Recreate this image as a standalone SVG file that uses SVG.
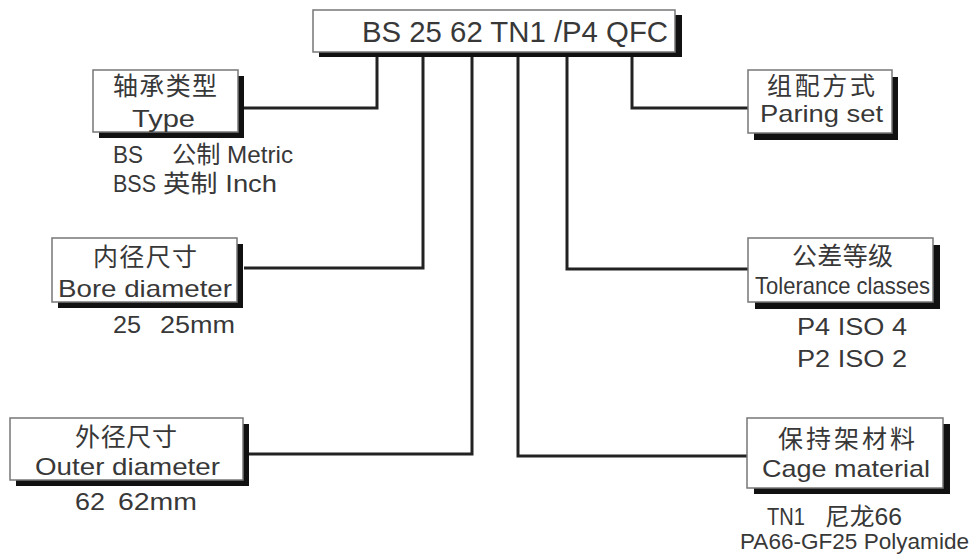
<svg xmlns="http://www.w3.org/2000/svg" width="976" height="559" viewBox="0 0 976 559">
<style>
.sh{fill:#111}
.bx{fill:#fff;stroke:#777;stroke-width:1.5}
.t{font-family:"Liberation Sans","Noto Sans CJK SC",sans-serif;font-size:24px;fill:#383838}
.c{font-family:"Noto Sans CJK SC","Liberation Sans",sans-serif;font-size:25px;fill:#383838}
.big{font-size:29px}
.sm{font-size:22px}
.ln{fill:none;stroke:#222;stroke-width:3}
</style>
<rect width="976" height="559" fill="#fff"/>
<g id="connectors">
<path class="ln" d="M377,57 V108 H244"/>
<path class="ln" d="M423,57 V268 H244"/>
<path class="ln" d="M472,57 V454 H249"/>
<path class="ln" d="M518,57 V456 H747"/>
<path class="ln" d="M567,57 V269 H748"/>
<path class="ln" d="M632,57 V108 H748"/>
</g>
<g id="code">
<rect class="sh" x="319" y="15" width="363" height="42"/>
<rect class="bx" x="313" y="10" width="362" height="42"/>
<text class="t big" x="362" y="42" textLength="306" lengthAdjust="spacingAndGlyphs">BS 25 62 TN1 /P4 QFC</text>
</g>
<g id="type">
<rect class="sh" x="99" y="76" width="145" height="62"/>
<rect class="bx" x="93" y="70" width="145" height="62"/>
<text class="c" x="113" y="95" textLength="104">轴承类型</text>
<text class="t" x="132" y="127" textLength="63" lengthAdjust="spacingAndGlyphs">Type</text>
<text class="t" y="163"><tspan x="113" textLength="30" lengthAdjust="spacingAndGlyphs">BS</tspan><tspan x="172" textLength="121" lengthAdjust="spacingAndGlyphs">公制 Metric</tspan></text>
<text class="t" y="192"><tspan x="113" textLength="43" lengthAdjust="spacingAndGlyphs">BSS</tspan><tspan x="163" textLength="114" lengthAdjust="spacingAndGlyphs">英制 Inch</tspan></text>
</g>
<g id="bore">
<rect class="sh" x="58" y="244" width="185" height="64"/>
<rect class="bx" x="52" y="238" width="185" height="64"/>
<text class="c" x="93" y="266" textLength="104">内径尺寸</text>
<text class="t" x="58" y="297" textLength="174" lengthAdjust="spacingAndGlyphs">Bore diameter</text>
<text class="t" y="333"><tspan x="113" textLength="28" lengthAdjust="spacingAndGlyphs">25</tspan><tspan x="160" textLength="75" lengthAdjust="spacingAndGlyphs">25mm</tspan></text>
</g>
<g id="outer">
<rect class="sh" x="16" y="424" width="233" height="62"/>
<rect class="bx" x="10" y="418" width="233" height="62"/>
<text class="c" x="75" y="446" textLength="102">外径尺寸</text>
<text class="t" x="35" y="475" textLength="185" lengthAdjust="spacingAndGlyphs">Outer diameter</text>
<text class="t" y="510"><tspan x="75" textLength="30" lengthAdjust="spacingAndGlyphs">62</tspan><tspan x="118" textLength="79" lengthAdjust="spacingAndGlyphs">62mm</tspan></text>
</g>
<g id="paring">
<rect class="sh" x="754" y="77" width="144" height="63"/>
<rect class="bx" x="748" y="70" width="144" height="63"/>
<text class="c" x="767" y="95" textLength="108">组配方式</text>
<text class="t" x="760" y="122" textLength="123" lengthAdjust="spacingAndGlyphs">Paring set</text>
</g>
<g id="tolerance">
<rect class="sh" x="755" y="245" width="185" height="64"/>
<rect class="bx" x="748" y="238" width="185" height="64"/>
<text class="c" x="792" y="265" textLength="101">公差等级</text>
<text class="t" x="755" y="294" textLength="175" lengthAdjust="spacingAndGlyphs">Tolerance classes</text>
<text class="t" x="797" y="335" textLength="110" lengthAdjust="spacingAndGlyphs">P4 ISO 4</text>
<text class="t" x="797" y="367" textLength="110" lengthAdjust="spacingAndGlyphs">P2 ISO 2</text>
</g>
<g id="cage">
<rect class="sh" x="754" y="424" width="196" height="70"/>
<rect class="bx" x="747" y="418" width="196" height="70"/>
<text class="c" x="778" y="448" textLength="137">保持架材料</text>
<text class="t" x="762" y="477" textLength="168" lengthAdjust="spacingAndGlyphs">Cage material</text>
<text class="t" y="525"><tspan x="767" textLength="38" lengthAdjust="spacingAndGlyphs">TN1</tspan><tspan x="825" textLength="77" lengthAdjust="spacingAndGlyphs">尼龙66</tspan></text>
<text class="t sm" x="740" y="549" textLength="229" lengthAdjust="spacingAndGlyphs">PA66-GF25 Polyamide</text>
</g>
</svg>
